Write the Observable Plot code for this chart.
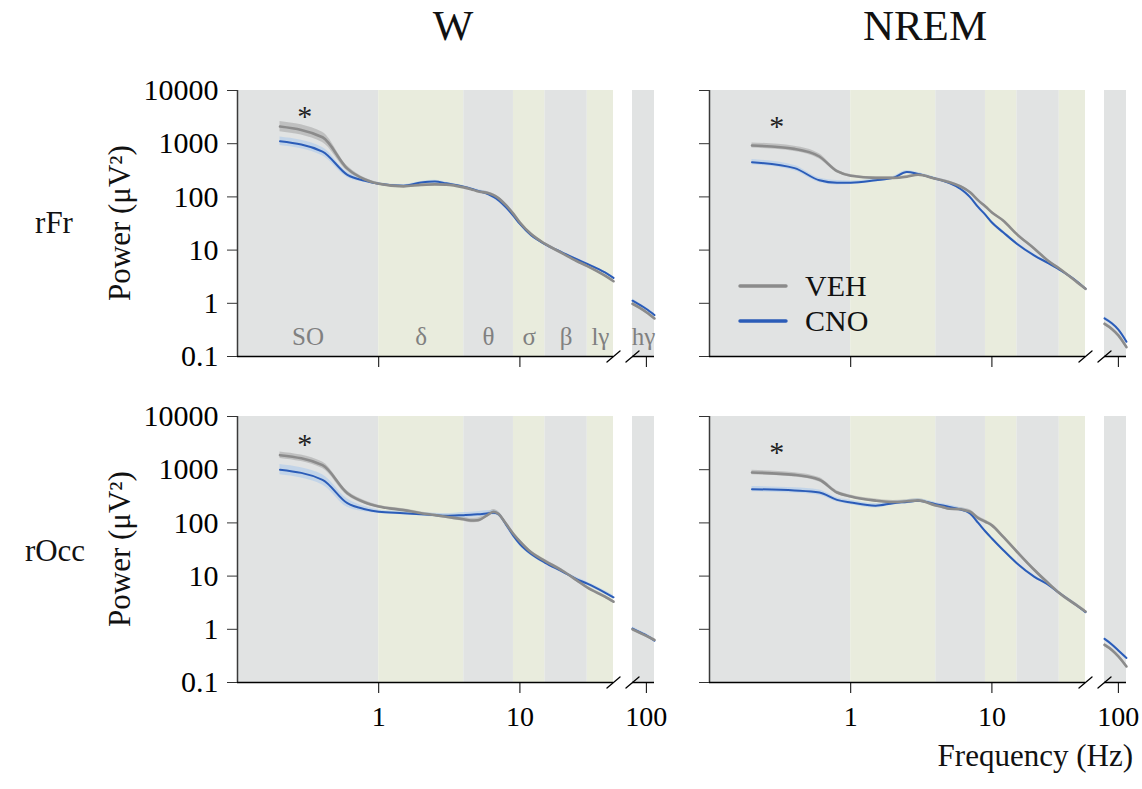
<!DOCTYPE html>
<html><head><meta charset="utf-8">
<script src="https://cdn.jsdelivr.net/npm/d3@7"></script>
<script src="https://cdn.jsdelivr.net/npm/@observablehq/plot@0.6"></script>
<style>
body{margin:0;background:#fff;}
#fig{position:relative;width:1142px;height:789px;font-family:"Liberation Serif","Times New Roman",serif;color:#111;overflow:hidden;}
.lbl{position:absolute;white-space:nowrap;line-height:1;}
</style></head><body><div id="fig"></div>
<script>
// ---------- data ----------
const columns = ["W", "NREM"];
const rows = ["rFr", "rOcc"];
const seriesNames = ["VEH", "CNO"];
const yTicks = [0.1, 1, 10, 100, 1000, 10000];
const xTicksMain = [1, 10];
const xTicksHigh = [100];
const mainDomain = [0.1, 46];
const highDomain = [80, 114];

const bandNames = ["SO", "δ", "θ", "σ", "β", "lγ", "hγ"];
const bandLo    = [0.1, 1, 4, 9, 15, 30, 80];
const bandHi    = [1, 4, 9, 15, 30, 46, 114];
const bandKind  = ["grey", "green", "grey", "green", "grey", "green", "grey"];

const freqs     = [0.2,0.4,0.6,0.8,1,1.5,2,2.5,3,4,4.5,5,6,6.5,7,8,9,10,12,15,20,25,30,40,46];
const freqsHigh = [80, 90, 100, 114];

// W, rFr
const wFrVeh = [2100,1320,340,212,176,158,168,172,170,151,140,128,117,108,96,69,48,33,20,13.2,8.7,6.3,5.0,3.3,2.6];
const wFrCno = [1110,710,260,200,176,162,186,195,180,155,143,131,112,100,88,63,44,31,19,13,9,6.8,5.5,3.8,3.0];
const wFrVehSem = [1.25,1.25,1.12,1.07,1.06,1.05,1.05,1.05,1.05,1.05,1.05,1.05,1.06,1.06,1.06,1.06,1.06,1.06,1.06,1.05,1.05,1.05,1.05,1.05,1.05];
const wFrCnoSem = [1.2,1.2,1.12,1.07,1.05,1.05,1.05,1.05,1.05,1.05,1.05,1.06,1.08,1.08,1.08,1.08,1.07,1.06,1.05,1.05,1.05,1.04,1.04,1.04,1.04];
const wFrVehHigh = [0.98, 0.82, 0.68, 0.52];
const wFrCnoHigh = [1.12, 0.93, 0.78, 0.60];

// NREM, rFr
const nFrVeh = [925,800,575,304,250,228,228,240,260,219,204,189,157,140,122,86,66,51,36,20,10.6,6.3,4.5,2.5,1.87];
const nFrCno = [450,347,205,184,184,205,228,295,270,219,200,181,141,120,99,64,46,33,21.7,13.2,7.9,5.7,4.3,2.57,1.87];
const nFrVehSem = [1.12,1.12,1.12,1.07,1.06,1.05,1.05,1.05,1.05,1.05,1.05,1.05,1.05,1.05,1.05,1.05,1.05,1.05,1.05,1.05,1.05,1.05,1.05,1.05,1.05];
const nFrCnoSem = [1.12,1.12,1.1,1.1,1.08,1.07,1.06,1.06,1.06,1.06,1.06,1.06,1.07,1.07,1.07,1.08,1.08,1.08,1.08,1.07,1.06,1.05,1.05,1.05,1.05];
const nFrVehHigh = [0.41, 0.33, 0.25, 0.15];
const nFrCnoHigh = [0.52, 0.42, 0.32, 0.19];

// W, rOcc
const wOcVeh = [1875,1217,362,242,203,174,152,140,130,117,111,112,145,162,150,95,62,45,28,19.4,12.6,8.5,6.1,4.1,3.3];
const wOcCno = [1000,646,235,181,162,152,145,140,136,140,142,145,152,155,148,92,57,40,26,18,12.2,8.9,7.2,4.9,4.0];
const wOcVehSem = [1.15,1.15,1.1,1.08,1.06,1.06,1.06,1.06,1.07,1.09,1.1,1.1,1.1,1.1,1.1,1.09,1.08,1.07,1.07,1.07,1.07,1.07,1.07,1.07,1.07];
const wOcCnoSem = [1.25,1.25,1.2,1.12,1.08,1.07,1.07,1.08,1.1,1.12,1.12,1.12,1.12,1.1,1.1,1.1,1.1,1.1,1.08,1.07,1.07,1.07,1.08,1.08,1.08];
const wOcVehHigh = [1.0, 0.86, 0.75, 0.63];
const wOcCnoHigh = [1.03, 0.88, 0.77, 0.61];

// NREM, rOcc
const nOcVeh = [885,800,646,372,313,262,247,255,265,213,198,184,181,172,163,123,105,90,55,29,13,7.4,4.8,2.8,2.16];
const nOcCno = [430,407,372,271,242,210,235,248,260,225,212,200,178,168,150,100,69,51,31,17.5,9.7,6.9,4.8,2.8,2.1];
const nOcVehSem = [1.1,1.1,1.1,1.08,1.07,1.07,1.07,1.07,1.07,1.07,1.07,1.07,1.08,1.08,1.08,1.08,1.08,1.08,1.08,1.08,1.08,1.08,1.08,1.08,1.08];
const nOcCnoSem = [1.12,1.12,1.12,1.1,1.1,1.1,1.08,1.08,1.08,1.08,1.08,1.08,1.08,1.08,1.08,1.07,1.07,1.07,1.06,1.06,1.06,1.06,1.06,1.06,1.06];
const nOcVehHigh = [0.51, 0.41, 0.31, 0.20];
const nOcCnoHigh = [0.66, 0.52, 0.40, 0.29];

const highSem = [1.07, 1.07, 1.07, 1.07];

// significance marks (frequency, power at which "*" is drawn)
const sigFreq = [0.3, 0.3, 0.3, 0.3];
const sigPower = [3250, 2100, 2950, 2100];

// ---------- styling / layout ----------
const GREY_BAND = "#e1e3e3", GREEN_BAND = "#e9ecdd";
const VEH_LINE = "#8b8b8b", VEH_FILL = "#a4a4a4";
const CNO_LINE = "#2b5cb8", CNO_FILL = "#a9c8ec";
const FONT = "Liberation Serif, Times New Roman, serif";
const AXIS_X = [237, 709];
const TOP_Y = [90, 416];
const PLOT_H = 266, MAIN_W = 376, HIGH_OFF = 395, HIGH_W = 22;
const M = {l: 110, r: 20, t: 20, b: 60};
const MH = {l: 20, r: 30};

const SLASH = {draw(context, l) { context.moveTo(0, 0); context.lineTo(0, -l); }};

const panels = [
  {row:0, col:0, veh:wFrVeh, cno:wFrCno, vs:wFrVehSem, cs:wFrCnoSem, vh:wFrVehHigh, ch:wFrCnoHigh},
  {row:0, col:1, veh:nFrVeh, cno:nFrCno, vs:nFrVehSem, cs:nFrCnoSem, vh:nFrVehHigh, ch:nFrCnoHigh},
  {row:1, col:0, veh:wOcVeh, cno:wOcCno, vs:wOcVehSem, cs:wOcCnoSem, vh:wOcVehHigh, ch:wOcCnoHigh},
  {row:1, col:1, veh:nOcVeh, cno:nOcCno, vs:nOcVehSem, cs:nOcCnoSem, vh:nOcVehHigh, ch:nOcCnoHigh}
];

const bands = bandNames.map((n, i) => ({name: n, lo: bandLo[i], hi: bandHi[i], kind: bandKind[i]}));
const mk = (f, p, s) => f.map((x, i) => ({f: x, p: p[i], lo: p[i] / s[i], hi: p[i] * s[i]}));

const fig = document.getElementById("fig");
function place(el, left, top) {
  el.style.maxWidth = "none";
  const d = document.createElement("div");
  d.style.position = "absolute"; d.style.left = left + "px"; d.style.top = top + "px";
  d.style.width = el.getAttribute("width") + "px";
  d.appendChild(el); fig.appendChild(d);
}
function label(text, x, y, size, tf = "translate(-50%,-50%)", color = "#111") {
  const d = document.createElement("div");
  d.className = "lbl"; d.textContent = text;
  d.style.left = x + "px"; d.style.top = y + "px"; d.style.fontSize = size + "px";
  d.style.transform = tf; d.style.color = color;
  fig.appendChild(d);
}

function layerMarks(veh, cno) {
  return [
    Plot.areaY(veh, {x: "f", y1: "lo", y2: "hi", fill: VEH_FILL, fillOpacity: 0.55, curve: "monotone-x"}),
    Plot.areaY(cno, {x: "f", y1: "lo", y2: "hi", fill: CNO_FILL, fillOpacity: 0.55, curve: "monotone-x"}),
    Plot.line(cno, {x: "f", y: "p", stroke: CNO_LINE, strokeWidth: 2, curve: "monotone-x"}),
    Plot.line(veh, {x: "f", y: "p", stroke: VEH_LINE, strokeWidth: 2.6, curve: "monotone-x"})
  ];
}

panels.forEach((pn, k) => {
  const veh = mk(freqs, pn.veh, pn.vs), cno = mk(freqs, pn.cno, pn.cs);
  const vehH = mk(freqsHigh, pn.vh, highSem), cnoH = mk(freqsHigh, pn.ch, highSem);
  const mainBands = bands.filter(b => b.hi <= mainDomain[1]);
  const highBands = bands.filter(b => b.lo >= highDomain[0]);
  const showBandText = pn.row === 0 && pn.col === 0;
  const sig = [{f: sigFreq[k], p: sigPower[k]}];
  const style = {background: "transparent", overflow: "visible", fontFamily: FONT, fontSize: "28px", color: "#000", maxWidth: "none"};

  const main = Plot.plot({
    width: M.l + MAIN_W + M.r, height: M.t + PLOT_H + M.b,
    marginLeft: M.l, marginRight: M.r, marginTop: M.t, marginBottom: M.b,
    style,
    x: {type: "log", domain: mainDomain, axis: null},
    y: {type: "log", domain: [yTicks[0], yTicks[yTicks.length - 1]], axis: null},
    marks: [
      Plot.rect(mainBands.filter(b => b.kind === "grey"), {x1: "lo", x2: "hi", fill: GREY_BAND}),
      Plot.rect(mainBands.filter(b => b.kind === "green"), {x1: "lo", x2: "hi", fill: GREEN_BAND}),
      ...layerMarks(veh, cno),
      showBandText ? Plot.text(mainBands, {x: d => Math.sqrt(d.lo * d.hi), frameAnchor: "bottom", dy: -20, text: "name", fill: "#808080", fontSize: 25, lineAnchor: "middle"}) : null,
      Plot.text(sig, {x: "f", y: "p", text: () => "*", fontSize: 30, fill: "#222", lineAnchor: "middle"}),
      Plot.ruleX([mainDomain[0]], {stroke: "#3a3a3a", strokeWidth: 1.5}),
      Plot.ruleY([yTicks[0]], {stroke: "#000", strokeWidth: 1.5}),
      Plot.axisY(yTicks, {tickSize: 10, tickPadding: 9, stroke: "#333", fontSize: 30, label: null,
        tickFormat: pn.col === 0 ? d => String(d) : () => ""}),
      Plot.axisX(xTicksMain, {tickSize: 11, tickPadding: 13, stroke: "#000", fontSize: 28, label: null,
        tickFormat: pn.row === 1 ? d => String(d) : () => ""}),
      Plot.vector([0], {frameAnchor: "bottom-right", length: 17, rotate: 50, anchor: "middle", shape: SLASH, stroke: "#000", strokeWidth: 1.3})
    ]
  });
  place(main, AXIS_X[pn.col] - M.l, TOP_Y[pn.row] - M.t);

  const high = Plot.plot({
    width: MH.l + HIGH_W + MH.r, height: M.t + PLOT_H + M.b,
    marginLeft: MH.l, marginRight: MH.r, marginTop: M.t, marginBottom: M.b,
    style,
    x: {type: "log", domain: highDomain, axis: null},
    y: {type: "log", domain: [yTicks[0], yTicks[yTicks.length - 1]], axis: null},
    marks: [
      Plot.rect(highBands, {x1: "lo", x2: "hi", fill: GREY_BAND}),
      ...layerMarks(vehH, cnoH),
      showBandText ? Plot.text(highBands, {x: d => Math.sqrt(d.lo * d.hi), frameAnchor: "bottom", dy: -20, text: "name", fill: "#808080", fontSize: 25, lineAnchor: "middle"}) : null,
      Plot.ruleY([yTicks[0]], {stroke: "#000", strokeWidth: 1.5}),
      Plot.axisX(xTicksHigh, {tickSize: 11, tickPadding: 13, stroke: "#000", fontSize: 28, label: null,
        tickFormat: pn.row === 1 ? d => String(d) : () => ""}),
      Plot.vector([0], {frameAnchor: "bottom-left", length: 17, rotate: 50, anchor: "middle", shape: SLASH, stroke: "#000", strokeWidth: 1.3})
    ]
  });
  place(high, AXIS_X[pn.col] + HIGH_OFF - MH.l, TOP_Y[pn.row] - M.t);
});

// ---------- text ----------
label(columns[0], 453, 25, 43);
label(columns[1], 925, 25, 43);
label(rows[0], 54, 222, 31);
label(rows[1], 55, 550, 31);
label("Power (μV²)", 119, 223, 31, "translate(-50%,-50%) rotate(-90deg)");
label("Power (μV²)", 119, 549, 31, "translate(-50%,-50%) rotate(-90deg)");
label("Frequency (Hz)", 1133, 755, 31, "translate(-100%,-50%)");

// legend
const legendColors = [VEH_LINE, CNO_LINE];
const legendY = [286, 321];
seriesNames.forEach((name, i) => {
  const s = document.createElementNS("http://www.w3.org/2000/svg", "svg");
  s.setAttribute("width", 50); s.setAttribute("height", 8);
  s.style.position = "absolute"; s.style.left = "738px"; s.style.top = (legendY[i] - 4) + "px";
  const ln = document.createElementNS("http://www.w3.org/2000/svg", "line");
  ln.setAttribute("x1", 2); ln.setAttribute("x2", 48); ln.setAttribute("y1", 4); ln.setAttribute("y2", 4);
  ln.setAttribute("stroke", legendColors[i]); ln.setAttribute("stroke-width", 3.4); ln.setAttribute("stroke-linecap", "round");
  s.appendChild(ln); fig.appendChild(s);
  label(name, 805, legendY[i], 30, "translate(0,-50%)");
});
</script>
</body></html>
